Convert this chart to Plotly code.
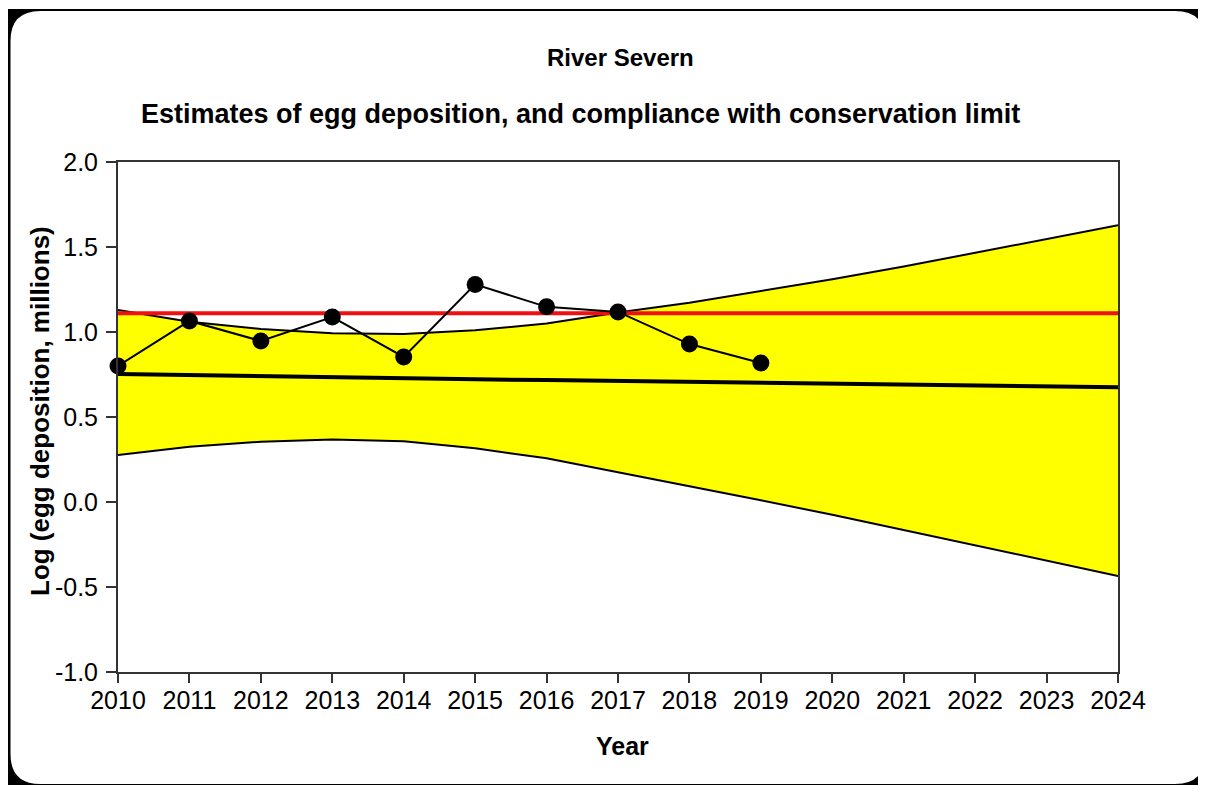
import plotly.graph_objects as go

years = list(range(2010, 2025))
obs_years = list(range(2010, 2020))
egg_obs = [0.80, 1.065, 0.947, 1.088, 0.853, 1.28, 1.148, 1.118, 0.929, 0.818]
upper_ci = [1.13, 1.06, 1.018, 0.993, 0.988, 1.01, 1.05, 1.115, 1.172, 1.24, 1.31, 1.385, 1.465, 1.547, 1.628]
lower_ci = [0.276, 0.325, 0.355, 0.367, 0.358, 0.316, 0.257, 0.175, 0.095, 0.01, -0.075, -0.165, -0.255, -0.345, -0.435]
trend = [0.753, 0.746, 0.740, 0.734, 0.728, 0.722, 0.717, 0.712, 0.706, 0.700, 0.694, 0.688, 0.684, 0.679, 0.675]
cons_limit = 1.11
y_ticks = [-1.0, -0.5, 0.0, 0.5, 1.0, 1.5, 2.0]

# page offset (browser body margin)
OFF = 8
W, H = 1206 - OFF, 785 - OFF
L, R, T, B = 118, 1118, 162, 672   # target page pixel positions of plot area
FONT = "Liberation Sans, Arial, sans-serif"

def px(x):
    return (x - L) / (R - L)

def py(y):
    return (B - y) / (B - T)

fig = go.Figure()
fig.add_trace(go.Scatter(x=years, y=upper_ci, mode="lines", line=dict(color="black", width=2), showlegend=False))
fig.add_trace(go.Scatter(x=years, y=lower_ci, mode="lines", line=dict(color="black", width=2),
                         fill="tonexty", fillcolor="#ffff00", showlegend=False))
fig.add_trace(go.Scatter(x=years, y=trend, mode="lines", line=dict(color="black", width=4), showlegend=False))
fig.add_trace(go.Scatter(x=[years[0], years[-1]], y=[cons_limit, cons_limit], mode="lines",
                         line=dict(color="#f01010", width=4), showlegend=False))
fig.add_trace(go.Scatter(x=obs_years, y=egg_obs, mode="lines+markers", cliponaxis=False,
                         line=dict(color="black", width=2),
                         marker=dict(color="black", size=17), showlegend=False))

# frame with rounded corners (target page coordinates)
x0, y0, x1, y1 = 8, 9, 1210, 790
fig.add_shape(type="rect", xref="paper", yref="paper", x0=px(x0), x1=px(x1), y0=py(y1), y1=py(y0),
              fillcolor="black", line=dict(width=0), layer="below")
ix0, iy0, ix1, iy1, r = 10.5, 11, 1205, 784, 30
def P(x, y):
    return f"{px(x):.5f},{py(y):.5f}"
path = (f"M {P(ix0 + r, iy0)} L {P(ix1 - r, iy0)} Q {P(ix1, iy0)} {P(ix1, iy0 + r)} "
        f"L {P(ix1, iy1 - r)} Q {P(ix1, iy1)} {P(ix1 - r, iy1)} "
        f"L {P(ix0 + r, iy1)} Q {P(ix0, iy1)} {P(ix0, iy1 - r)} "
        f"L {P(ix0, iy0 + r)} Q {P(ix0, iy0)} {P(ix0 + r, iy0)} Z")
fig.add_shape(type="path", xref="paper", yref="paper", path=path,
              fillcolor="white", line=dict(width=0), layer="below")

annos = [
    dict(text="<b>River Severn</b>", x=px(620), y=py(57), size=24),
    dict(text="<b>Estimates of egg deposition, and compliance with conservation limit</b>", x=px(580), y=py(114), size=27),
    dict(text="<b>Year</b>", x=px(622), y=py(746), size=25),
]
for a in annos:
    fig.add_annotation(text=a["text"], x=a["x"], y=a["y"], xref="paper", yref="paper",
                       showarrow=False, xanchor="center", yanchor="middle",
                       font=dict(family=FONT, size=a["size"], color="black"))
fig.add_annotation(text="<b>Log (egg deposition, millions)</b>", x=px(40), y=py(411), xref="paper", yref="paper",
                   showarrow=False, textangle=-90, xanchor="center", yanchor="middle",
                   font=dict(family=FONT, size=26, color="black"))

fig.update_xaxes(range=[2010, 2024], tickvals=years, ticktext=[str(y) for y in years],
                 showline=True, mirror=True, linecolor="#333", linewidth=2,
                 ticks="outside", ticklen=9, tickwidth=2, tickcolor="#333",
                 ticklabelstandoff=-4,
                 showgrid=False, zeroline=False,
                 tickfont=dict(family=FONT, size=25, color="black"))
fig.update_yaxes(range=[-1.0, 2.0], tickvals=y_ticks, ticktext=[f"{v:.1f}" for v in y_ticks],
                 showline=True, mirror=True, linecolor="#333", linewidth=2,
                 ticks="outside", ticklen=10, tickwidth=2, tickcolor="#333",
                 ticklabelstandoff=3,
                 showgrid=False, zeroline=False,
                 tickfont=dict(family=FONT, size=25, color="black"))

fig.update_layout(width=W, height=H, margin=dict(l=L - OFF, r=1206 - R, t=T - OFF, b=785 - B),
                  paper_bgcolor="white", plot_bgcolor="white", showlegend=False)

fig.write_html("out.html")
